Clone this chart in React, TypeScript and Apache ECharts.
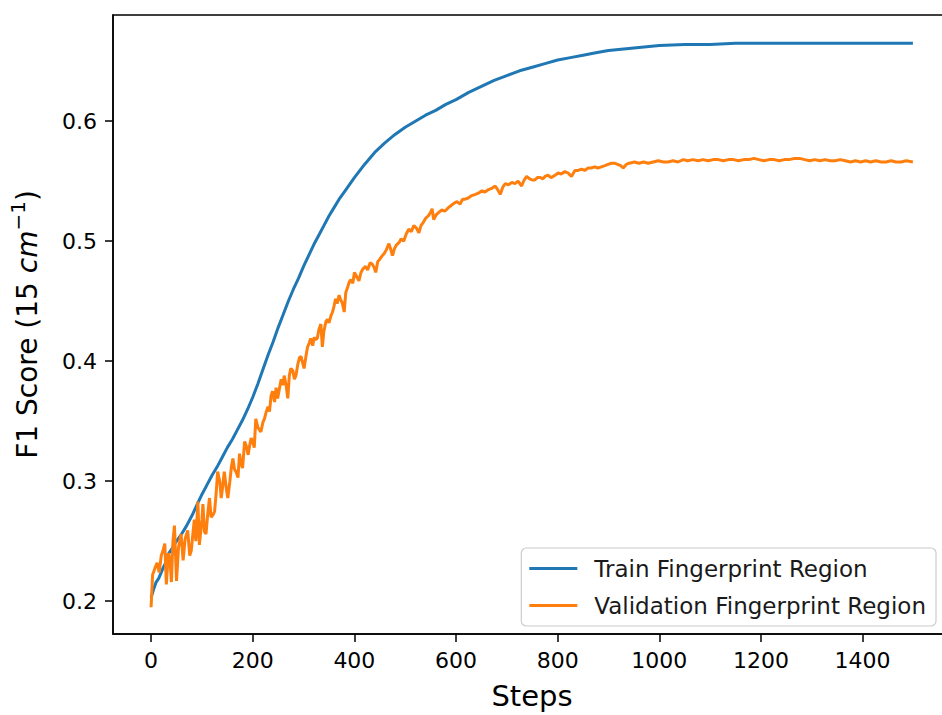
import React, { useEffect, useRef } from "react";
import * as echarts from "echarts";

// Training curve, F1 score per step
const trainSteps = [
  0, 5, 10, 15, 20, 25, 30, 35, 40, 45, 50, 55, 60, 70, 80, 90, 100, 110, 120, 130,
  140, 150, 160, 170, 180, 190, 200, 210, 220, 230, 240, 250, 260, 270, 280, 290, 300,
  310, 320, 330, 340, 350, 360, 370, 380, 390, 400, 420, 440, 460, 480, 500, 520, 540,
  560, 580, 600, 625, 650, 675, 700, 725, 750, 775, 800, 825, 850, 875, 900, 925, 950,
  975, 1000, 1050, 1100, 1150, 1200, 1250, 1300, 1350, 1400, 1450, 1499,
];
const trainF1 = [
  0.203, 0.21, 0.216, 0.219, 0.224, 0.229, 0.233, 0.24, 0.243, 0.247, 0.25, 0.253, 0.256,
  0.263, 0.271, 0.28, 0.289, 0.297, 0.305, 0.312, 0.32, 0.328, 0.335, 0.343, 0.351, 0.36,
  0.37, 0.381, 0.393, 0.405, 0.416, 0.428, 0.439, 0.45, 0.46, 0.469, 0.479, 0.488, 0.497,
  0.505, 0.513, 0.521, 0.528, 0.535, 0.541, 0.547, 0.553, 0.564, 0.574, 0.582, 0.589,
  0.595, 0.6, 0.605, 0.609, 0.614, 0.618, 0.624, 0.629, 0.634, 0.638, 0.642, 0.645,
  0.648, 0.651, 0.653, 0.655, 0.657, 0.659, 0.66, 0.661, 0.662, 0.663, 0.664, 0.664,
  0.665, 0.665, 0.665, 0.665, 0.665, 0.665, 0.665, 0.665,
];

// Validation curve, F1 score per step
const valSteps = [
  0, 3, 8, 12, 16, 20, 24, 27, 30, 34, 37, 40, 43, 46, 50, 54, 59, 63, 67, 72, 76, 79, 85,
  88, 92, 95, 100, 102, 105, 108, 112, 115, 118, 122, 125, 128, 131, 135, 138, 141, 144,
  148, 151, 155, 158, 161, 164, 167, 171, 174, 177, 180, 184, 187, 191, 194, 197, 200,
  203, 206, 210, 213, 216, 220, 223, 226, 230, 233, 236, 239, 243, 246, 249, 252, 256,
  259, 262, 266, 269, 272, 275, 279, 282, 285, 289, 292, 295, 298, 301, 305, 308, 311,
  314, 318, 321, 324, 327, 330, 334, 337, 340, 344, 347, 350, 354, 357, 360, 363, 366,
  370, 373, 376, 380, 383, 387, 390, 393, 397, 400, 404, 409, 413, 417, 422, 426, 431,
  435, 439, 442, 446, 450, 455, 459, 463, 468, 471, 475, 479, 483, 488, 492, 497, 502,
  507, 512, 517, 522, 527, 531, 536, 540, 545, 550, 553, 556, 561, 566, 572, 578, 585,
  591, 597, 602, 608, 613, 618, 624, 631, 638, 644, 651, 657, 664, 670, 677, 682, 687,
  692, 697, 703, 710, 716, 722, 729, 734, 739, 745, 750, 755, 760, 766, 771, 775, 781,
  787, 795, 801, 807, 814, 820, 827, 834, 840, 847, 853, 860, 866, 873, 879, 886, 893,
  899, 906, 912, 918, 924, 929, 935, 941, 951, 960, 969, 978, 988, 998, 1008, 1017, 1027,
  1037, 1047, 1056, 1066, 1076, 1086, 1096, 1106, 1116, 1126, 1136, 1146, 1156, 1166,
  1176, 1186, 1196, 1206, 1216, 1226, 1236, 1246, 1256, 1266, 1276, 1286, 1296, 1306,
  1316, 1326, 1336, 1346, 1356, 1366, 1376, 1386, 1396, 1406, 1416, 1426, 1436, 1446,
  1456, 1466, 1476, 1486, 1499,
];
const valF1 = [
  0.195, 0.222, 0.228, 0.232, 0.224, 0.238, 0.243, 0.248, 0.214, 0.24, 0.236, 0.216, 0.25,
  0.263, 0.217, 0.245, 0.256, 0.234, 0.252, 0.259, 0.238, 0.242, 0.268, 0.25, 0.283, 0.247,
  0.268, 0.281, 0.258, 0.256, 0.275, 0.286, 0.27, 0.272, 0.275, 0.29, 0.308, 0.3, 0.286,
  0.296, 0.308, 0.294, 0.286, 0.3, 0.312, 0.319, 0.31, 0.308, 0.303, 0.323, 0.315, 0.311,
  0.333, 0.33, 0.322, 0.33, 0.336, 0.333, 0.328, 0.352, 0.345, 0.343, 0.341, 0.349, 0.352,
  0.357, 0.362, 0.358, 0.371, 0.375, 0.366, 0.378, 0.369, 0.376, 0.385, 0.38, 0.388,
  0.379, 0.369, 0.388, 0.394, 0.392, 0.385, 0.388, 0.398, 0.403, 0.404, 0.399, 0.394,
  0.405, 0.412, 0.415, 0.419, 0.413, 0.42, 0.418, 0.419, 0.426, 0.431, 0.412, 0.425,
  0.433, 0.435, 0.432, 0.438, 0.441, 0.446, 0.452, 0.448, 0.455, 0.451, 0.449, 0.441,
  0.457, 0.462, 0.466, 0.468, 0.465, 0.474, 0.471, 0.467, 0.474, 0.477, 0.479, 0.476,
  0.482, 0.481, 0.478, 0.474, 0.483, 0.485, 0.488, 0.49, 0.493, 0.498, 0.494, 0.488,
  0.494, 0.497, 0.499, 0.502, 0.5, 0.506, 0.51, 0.508, 0.513, 0.511, 0.507, 0.513, 0.516,
  0.519, 0.521, 0.524, 0.527, 0.518, 0.522, 0.524, 0.526, 0.525, 0.528, 0.53, 0.532,
  0.533, 0.531, 0.535, 0.535, 0.536, 0.538, 0.539, 0.54, 0.542, 0.541, 0.543, 0.544,
  0.546, 0.543, 0.539, 0.545, 0.548, 0.547, 0.549, 0.548, 0.55, 0.546, 0.551, 0.554,
  0.552, 0.551, 0.551, 0.553, 0.553, 0.552, 0.554, 0.555, 0.553, 0.555, 0.557, 0.556,
  0.558, 0.557, 0.554, 0.559, 0.559, 0.56, 0.559, 0.561, 0.561, 0.562, 0.561, 0.562,
  0.563, 0.564, 0.565, 0.565, 0.564, 0.563, 0.561, 0.564, 0.565, 0.566, 0.565, 0.566,
  0.565, 0.566, 0.567, 0.566, 0.566, 0.567, 0.566, 0.568, 0.567, 0.568, 0.567, 0.568,
  0.567, 0.568, 0.568, 0.567, 0.568, 0.568, 0.567, 0.568, 0.568, 0.569, 0.568, 0.567,
  0.568, 0.568, 0.567, 0.568, 0.568, 0.569, 0.569, 0.568, 0.567, 0.568, 0.567, 0.568,
  0.567, 0.567, 0.568, 0.567, 0.566, 0.567, 0.566, 0.567, 0.566, 0.567, 0.566, 0.566,
  0.567, 0.566, 0.566, 0.567, 0.566,
];

const xTicks = [0, 200, 400, 600, 800, 1000, 1200, 1400];
const yTicks = [0.2, 0.3, 0.4, 0.5, 0.6];

const FONT = "DejaVu Sans";

export default function App() {
  const ref = useRef<HTMLDivElement>(null);

  useEffect(() => {
    if (!ref.current) return;
    const chart = echarts.init(ref.current, undefined, { renderer: "svg" });

    const train = trainSteps.map((s, i) => [s, trainF1[i]]);
    const val = valSteps.map((s, i) => [s, valF1[i]]);

    const spine = { show: true, onZero: false, lineStyle: { color: "#000", width: 1.5 } };

    chart.setOption({
      animation: false,
      backgroundColor: "#ffffff",
      textStyle: { fontFamily: FONT, color: "#000" },
      grid: {
        left: 111,
        right: 9,
        top: 15,
        bottom: 77,
        show: true,
        borderColor: "#000",
        borderWidth: 1.5,
        backgroundColor: "transparent",
      },
      xAxis: {
        type: "value",
        position: "bottom",
        min: -74.95,
        max: 1573.95,
        name: "Steps",
        nameLocation: "middle",
        nameGap: 47,
        nameTextStyle: { fontFamily: FONT, fontSize: 29, color: "#000" },
        axisLine: spine,
        splitLine: { show: false },
        axisTick: {
          show: true,
          inside: false,
          length: 8,
          customValues: xTicks,
          lineStyle: { color: "#000", width: 1.5 },
        },
        axisLabel: {
          customValues: xTicks,
          margin: 15,
          fontFamily: FONT,
          fontSize: 22,
          color: "#000",
          formatter: (v: number) => String(v),
        },
      },
      yAxis: {
        type: "value",
        position: "left",
        min: 0.1727,
        max: 0.6885,
        name: "{n|F1 Score (15 }{i|cm}{s|−1}{n|)}",
        nameLocation: "middle",
        nameGap: 67,
        nameRotate: 90,
        nameTextStyle: {
          fontFamily: FONT,
          color: "#000",
          rich: {
            n: { fontFamily: FONT, fontSize: 28, color: "#000", lineHeight: 38 },
            i: { fontFamily: FONT, fontSize: 28, fontStyle: "italic", color: "#000", lineHeight: 38 },
            s: { fontFamily: FONT, fontSize: 20, color: "#000", verticalAlign: "top", lineHeight: 22 },
          },
        },
        axisLine: spine,
        splitLine: { show: false },
        axisTick: {
          show: true,
          inside: false,
          length: 8,
          customValues: yTicks,
          lineStyle: { color: "#000", width: 1.5 },
        },
        axisLabel: {
          customValues: yTicks,
          margin: 16,
          fontFamily: FONT,
          fontSize: 22,
          color: "#000",
          formatter: (v: number) => v.toFixed(1),
        },
      },
      legend: {
        orient: "vertical",
        right: 24,
        top: 548,
        padding: [9, 10, 9, 8],
        itemGap: 14,
        itemWidth: 48,
        itemHeight: 3,
        icon: "rect",
        backgroundColor: "#ffffff",
        borderColor: "#cccccc",
        borderWidth: 1.2,
        borderRadius: 5,
        textStyle: {
          fontFamily: FONT,
          fontSize: 23,
          lineHeight: 22,
          color: "#1a1a1a",
          padding: [0, 0, 0, 12],
        },
        data: ["Train Fingerprint Region", "Validation Fingerprint Region"],
      },
      series: [
        {
          name: "Train Fingerprint Region",
          type: "line",
          data: train,
          showSymbol: false,
          symbol: "none",
          lineStyle: { color: "#1f77b4", width: 3 },
          itemStyle: { color: "#1f77b4" },
        },
        {
          name: "Validation Fingerprint Region",
          type: "line",
          data: val,
          showSymbol: false,
          symbol: "none",
          lineStyle: { color: "#ff7f0e", width: 3 },
          itemStyle: { color: "#ff7f0e" },
        },
      ],
    });

    return () => chart.dispose();
  }, []);

  return (
    <div
      ref={ref}
      style={{ position: "fixed", left: 0, top: 0, width: 960, height: 715 }}
    />
  );
}
